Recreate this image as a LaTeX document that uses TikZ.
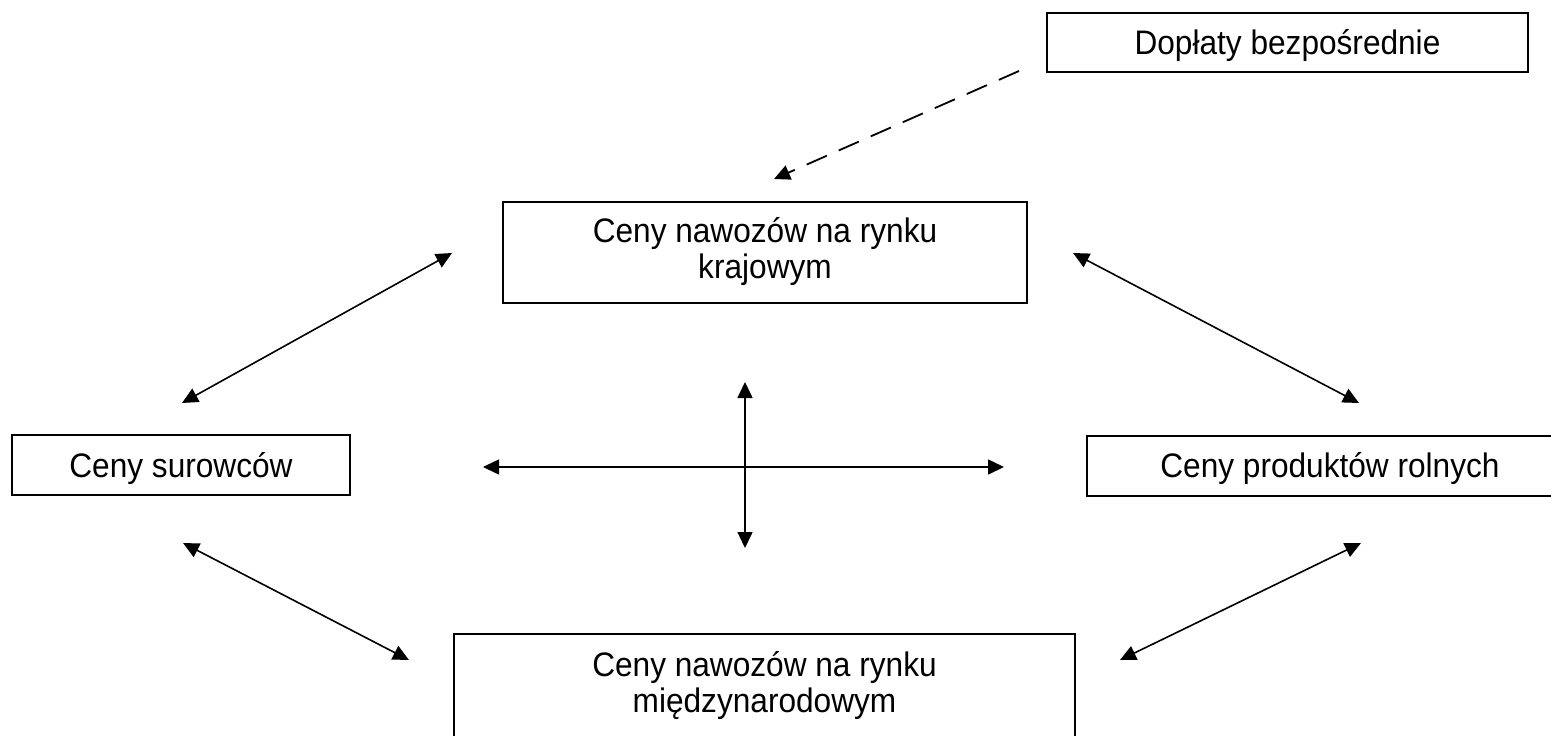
\documentclass[tikz,border=0pt]{standalone}
\usepackage{fontspec}
\setmainfont{Liberation Sans}[FakeStretch=0.93]
\usetikzlibrary{arrows.meta}
\begin{document}
\begin{tikzpicture}[x=1pt,y=-1pt,
  box/.style={draw=black, line width=1.8pt, align=center, inner sep=0pt,
    font=\fontsize{34}{36}\selectfont},
  link/.style={line width=1.6pt,
    {Triangle[length=16pt,width=15pt]}-{Triangle[length=16pt,width=15pt]}},
  dashlink/.style={line width=1.8pt, dash pattern=on 22pt off 13pt,
    -{Triangle[length=16pt,width=15pt]}}]
\useasboundingbox (0,0) rectangle (1551,736);
\clip (0,0) rectangle (1551,736);

% boxes
\node[box, minimum width=481pt, minimum height=59pt, text height=30pt, text depth=7pt]
  (dop) at (1287.5,42.5) {Dopłaty bezpośrednie};
\node[box, minimum width=524pt, minimum height=101pt, text height=59pt, text depth=8pt]
  (kraj) at (765,252.5) {Ceny nawozów na rynku\\krajowym};
\node[box, minimum width=338pt, minimum height=60pt, text height=30pt, text depth=6pt]
  (sur) at (181,465) {Ceny surowców};
\node[box, minimum width=486pt, minimum height=60pt, text height=30pt, text depth=7pt]
  (prod) at (1330,466) {Ceny produktów rolnych};
\node[box, minimum width=621pt, anchor=north, text height=79pt, text depth=100pt]
  (miedz) at (764.5,633) {Ceny nawozów na rynku\\międzynarodowym};

% arrow end points
\coordinate (a1s) at (182,403);  \coordinate (a1e) at (452,253);
\coordinate (a2s) at (1073,253); \coordinate (a2e) at (1359,403);
\coordinate (a3s) at (183,543);  \coordinate (a3e) at (409,660);
\coordinate (a4s) at (1120,660); \coordinate (a4e) at (1361,543);
\coordinate (hs) at (483,467);   \coordinate (he) at (1004,467);
\coordinate (vs) at (745,382);   \coordinate (ve) at (745,548);
\coordinate (ds) at (1019,71);   \coordinate (de) at (774,179);

% connectors
\draw[link] (a1s) -- (a1e);
\draw[link] (a2s) -- (a2e);
\draw[link] (a3s) -- (a3e);
\draw[link] (a4s) -- (a4e);
\draw[link] (hs) -- (he);
\draw[link] (vs) -- (ve);
\draw[dashlink] (ds) -- (de);
\end{tikzpicture}
\end{document}
